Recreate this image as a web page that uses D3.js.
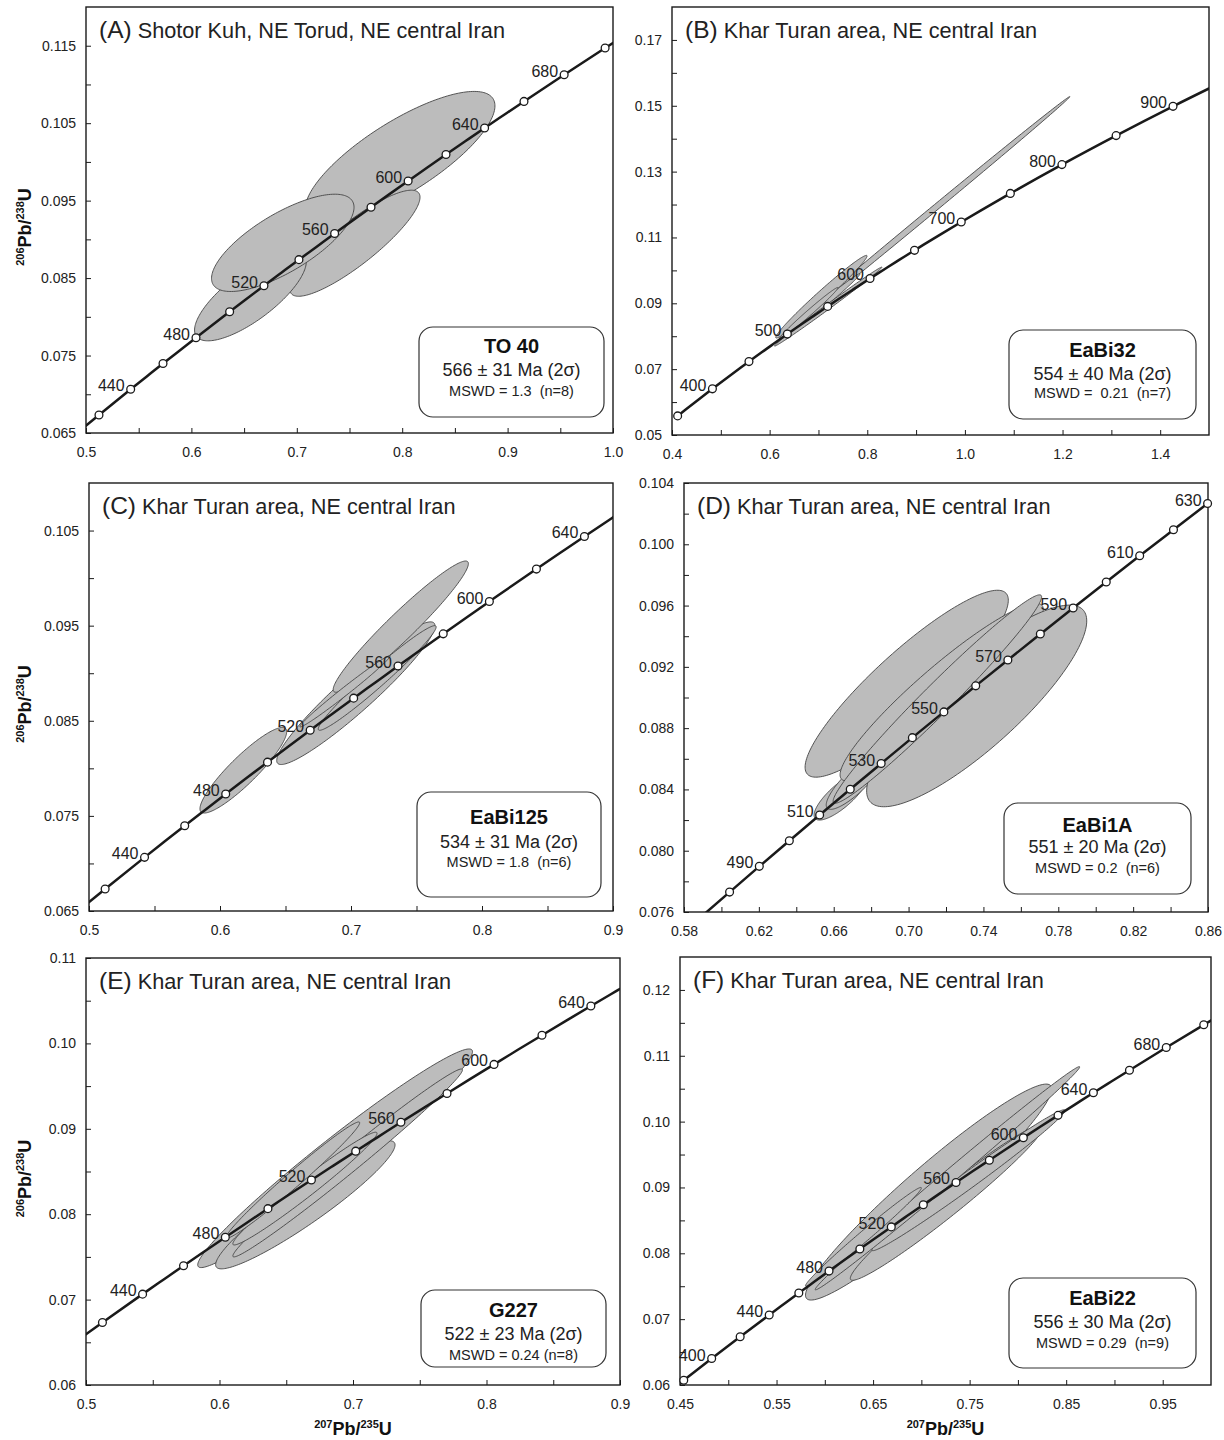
<!DOCTYPE html>
<html>
<head>
<meta charset="utf-8">
<script src="https://cdn.jsdelivr.net/npm/d3@7"></script>
<style>
  body { margin: 0; background: #fff; }
  svg { display: block; font-family: "Liberation Sans", Arial, Helvetica, sans-serif; }
  text { white-space: pre; }
</style>
</head>
<body>
<svg id="chart" width="1224" height="1440"></svg>
<script>
// concordia reference points: age (Ma), 207Pb/235U, 206Pb/238U
const CONC_AGE = [350, 360, 380, 400, 420, 440, 450, 460, 470, 480, 490, 500, 510, 520, 530, 540, 550, 560, 570, 580, 590, 600, 610, 620, 630, 640, 650, 660, 680, 700, 720, 750, 800, 850, 900, 950];
const CONC_X = [0.41156, 0.42553, 0.45389, 0.48281, 0.51231, 0.54239, 0.55766, 0.57307, 0.58864, 0.60436, 0.62024, 0.63628, 0.65248, 0.66883, 0.68535, 0.70203, 0.71887, 0.73588, 0.75306, 0.77041, 0.78794, 0.80563, 0.82350, 0.84155, 0.85978, 0.87818, 0.89677, 0.91554, 0.95365, 0.99251, 1.03215, 1.09308, 1.19873, 1.30971, 1.42629, 1.54876];
const CONC_Y = [0.05580, 0.05743, 0.06072, 0.06402, 0.06732, 0.07064, 0.07230, 0.07397, 0.07563, 0.07730, 0.07898, 0.08065, 0.08233, 0.08401, 0.08569, 0.08738, 0.08906, 0.09076, 0.09245, 0.09414, 0.09584, 0.09754, 0.09925, 0.10095, 0.10266, 0.10438, 0.10609, 0.10781, 0.11125, 0.11470, 0.11817, 0.12338, 0.13213, 0.14094, 0.14983, 0.15878];

const PANEL_IDS = ["A", "B", "C", "D", "E", "F"];
const PANEL_TITLES = [
    "Shotor Kuh, NE Torud, NE central Iran",
    "Khar Turan area, NE central Iran",
    "Khar Turan area, NE central Iran",
    "Khar Turan area, NE central Iran",
    "Khar Turan area, NE central Iran",
    "Khar Turan area, NE central Iran"
];
const SAMPLE_NAMES = ["TO 40", "EaBi32", "EaBi125", "EaBi1A", "G227", "EaBi22"];
const AGE_TEXT = ["566 \u00b1 31 Ma (2\u03c3)", "554 \u00b1 40 Ma (2\u03c3)", "534 \u00b1 31 Ma (2\u03c3)", "551 \u00b1 20 Ma (2\u03c3)", "522 \u00b1 23 Ma (2\u03c3)", "556 \u00b1 30 Ma (2\u03c3)"];
const MSWD_TEXT = ["MSWD = 1.3  (n=8)", "MSWD =  0.21  (n=7)", "MSWD = 1.8  (n=6)", "MSWD = 0.2  (n=6)", "MSWD = 0.24 (n=8)", "MSWD = 0.29  (n=9)"];

const X_DOMAINS = [[0.5, 1.0], [0.4, 1.5], [0.5, 0.9], [0.58, 0.86], [0.5, 0.9], [0.45, 1.0]];
const Y_DOMAINS = [[0.065, 0.12], [0.05, 0.18], [0.065, 0.11], [0.076, 0.104], [0.06, 0.11], [0.06, 0.125]];
const X_TICKS = [
    [0.5, 0.6, 0.7, 0.8, 0.9, 1.0],
    [0.4, 0.6, 0.8, 1.0, 1.2, 1.4],
    [0.5, 0.6, 0.7, 0.8, 0.9],
    [0.58, 0.62, 0.66, 0.70, 0.74, 0.78, 0.82, 0.86],
    [0.5, 0.6, 0.7, 0.8, 0.9],
    [0.45, 0.55, 0.65, 0.75, 0.85, 0.95]
];
const X_MINOR = [
    [0.55, 0.65, 0.75, 0.85, 0.95],
    [0.5, 0.7, 0.9, 1.1, 1.3],
    [0.55, 0.65, 0.75, 0.85],
    [0.60, 0.64, 0.68, 0.72, 0.76, 0.80, 0.84],
    [0.55, 0.65, 0.75, 0.85],
    [0.5, 0.6, 0.7, 0.8, 0.9]
];
const Y_TICKS = [
    [0.065, 0.075, 0.085, 0.095, 0.105, 0.115],
    [0.05, 0.07, 0.09, 0.11, 0.13, 0.15, 0.17],
    [0.065, 0.075, 0.085, 0.095, 0.105],
    [0.076, 0.080, 0.084, 0.088, 0.092, 0.096, 0.100, 0.104],
    [0.06, 0.07, 0.08, 0.09, 0.10, 0.11],
    [0.06, 0.07, 0.08, 0.09, 0.10, 0.11, 0.12]
];
const Y_MINOR = [
    [0.07, 0.08, 0.09, 0.10, 0.11],
    [0.06, 0.08, 0.10, 0.12, 0.14, 0.16],
    [0.07, 0.08, 0.09, 0.10],
    [0.078, 0.082, 0.086, 0.090, 0.094, 0.098, 0.102],
    [0.065, 0.075, 0.085, 0.095, 0.105],
    [0.065, 0.075, 0.085, 0.095, 0.105, 0.115]
];
const X_DECIMALS = [1, 1, 1, 2, 1, 2];
const Y_DECIMALS = [3, 2, 3, 3, 2, 2];

// concordia age span drawn, ages marked with a circle, ages labelled
const LINE_AGES = [[400, 720], [350, 950], [400, 720], [460, 640], [400, 720], [360, 720]];
const CIRCLE_AGES = [
    [420, 440, 460, 480, 500, 520, 540, 560, 580, 600, 620, 640, 660, 680, 700],
    [350, 400, 450, 500, 550, 600, 650, 700, 750, 800, 850, 900],
    [420, 440, 460, 480, 500, 520, 540, 560, 580, 600, 620, 640],
    [480, 490, 500, 510, 520, 530, 540, 550, 560, 570, 580, 590, 600, 610, 620, 630],
    [420, 440, 460, 480, 500, 520, 540, 560, 580, 600, 620, 640],
    [380, 400, 420, 440, 460, 480, 500, 520, 540, 560, 580, 600, 620, 640, 660, 680, 700]
];
const LABEL_AGES = [
    [440, 480, 520, 560, 600, 640, 680],
    [400, 500, 600, 700, 800, 900],
    [440, 480, 520, 560, 600, 640],
    [490, 510, 530, 550, 570, 590, 610, 630],
    [440, 480, 520, 560, 600, 640],
    [400, 440, 480, 520, 560, 600, 640, 680]
];

// error ellipses: [x, y, 2s x, 2s y, rho]
const ELLIPSES_A = [
    [0.798, 0.1006, 0.090, 0.0085, 0.78],
    [0.7552, 0.0895, 0.0617, 0.00685, 0.867],
    [0.656, 0.0827, 0.053, 0.0058, 0.76],
    [0.6867, 0.08955, 0.0676, 0.00628, 0.73]
];
const ELLIPSES_B = [
    [0.917, 0.1163, 0.298, 0.0365, 0.9995],
    [0.706, 0.0920, 0.0935, 0.01255, 0.985],
    [0.700, 0.0885, 0.085, 0.0105, 0.993],
    [0.680, 0.0870, 0.060, 0.0078, 0.99],
    [0.720, 0.0890, 0.110, 0.0120, 0.997]
];
const ELLIPSES_C = [
    [0.6178, 0.0798, 0.0331, 0.0045, 0.90],
    [0.7037, 0.0879, 0.0604, 0.0075, 0.944],
    [0.738, 0.0949, 0.0516, 0.0069, 0.959],
    [0.720, 0.0895, 0.045, 0.0055, 0.975],
    [0.6954, 0.0881, 0.0344, 0.00374, 0.99]
];
const ELLIPSES_D = [
    [0.664, 0.0836, 0.0145, 0.0016, 0.80],
    [0.672, 0.0846, 0.016, 0.0019, 0.85],
    [0.699, 0.0909, 0.0543, 0.0061, 0.893],
    [0.7177, 0.09035, 0.0543, 0.0058, 0.93],
    [0.7364, 0.08945, 0.0588, 0.00658, 0.843],
    [0.7154, 0.0899, 0.0557, 0.0068, 0.98]
];
const ELLIPSES_E = [
    [0.6866, 0.08655, 0.1029, 0.0128, 0.975],
    [0.6643, 0.0811, 0.0672, 0.0075, 0.935],
    [0.696, 0.0860, 0.086, 0.0110, 0.99],
    [0.664, 0.0830, 0.054, 0.0066, 0.98],
    [0.655, 0.0840, 0.050, 0.0068, 0.985]
];
const ELLIPSES_F = [
    [0.7075, 0.0893, 0.1275, 0.0164, 0.955],
    [0.7264, 0.0877, 0.100, 0.0118, 0.975],
    [0.7488, 0.0911, 0.100, 0.0107, 0.99],
    [0.727, 0.0914, 0.137, 0.01695, 0.997],
    [0.640, 0.0825, 0.060, 0.0075, 0.99]
];
const ELLIPSES = [ELLIPSES_A, ELLIPSES_B, ELLIPSES_C, ELLIPSES_D, ELLIPSES_E, ELLIPSES_F];

// page layout (pixels)
const LAYOUT = {
    frames: [
        { l: 86, t: 7, r: 613, b: 433 },
        { l: 672, t: 7, r: 1209, b: 435 },
        { l: 89, t: 483, r: 613, b: 911 },
        { l: 684, t: 483, r: 1208, b: 912 },
        { l: 86, t: 958, r: 620, b: 1385 },
        { l: 680, t: 957, r: 1211, b: 1385 }
    ],
    boxes: [
        { x0: 419, y0: 327, x1: 604, y1: 417, lines: [26, 49, 69] },
        { x0: 1009, y0: 330, x1: 1196, y1: 419, lines: [27, 50, 68] },
        { x0: 417, y0: 792, x1: 601, y1: 897, lines: [32, 56, 75] },
        { x0: 1004, y0: 803, x1: 1191, y1: 894, lines: [29, 50, 70] },
        { x0: 421, y0: 1290, x1: 606, y1: 1367, lines: [27, 50, 70] },
        { x0: 1009, y0: 1278, x1: 1196, y1: 1368, lines: [27, 50, 70] }
    ],
    yTitle: [true, false, true, false, true, false],
    xTitle: [false, false, false, false, true, true]
};

const FILL = "#bcbcbc";
const INK = "#1a1a1a";
const svg = d3.select("#chart");

PANEL_IDS.forEach((id, i) => drawPanel(i));

function drawPanel(i) {
    const f = LAYOUT.frames[i];
    const x = d3.scaleLinear().domain(X_DOMAINS[i]).range([f.l, f.r]);
    const y = d3.scaleLinear().domain(Y_DOMAINS[i]).range([f.b, f.t]);
    const g = svg.append("g").attr("class", "panel-" + PANEL_IDS[i]);

    const clipId = "clip-" + PANEL_IDS[i];
    g.append("clipPath").attr("id", clipId)
        .append("rect")
        .attr("x", f.l).attr("y", f.t)
        .attr("width", f.r - f.l).attr("height", f.b - f.t);

    const plot = g.append("g").attr("clip-path", `url(#${clipId})`);

    // error ellipses
    const angles = d3.range(0, 360, 2);
    const ellLine = d3.line()
        .x(d => x(d[0]))
        .y(d => y(d[1]))
        .curve(d3.curveLinearClosed);
    ELLIPSES[i].forEach(e => {
        const [cx, cy, sx, sy, rho] = e;
        const k = Math.sqrt(1 - rho * rho);
        const pts = angles.map(a => {
            const t = a * Math.PI / 180;
            return [cx + sx * Math.cos(t), cy + sy * (rho * Math.cos(t) + k * Math.sin(t))];
        });
        plot.append("path")
            .attr("d", ellLine(pts))
            .attr("fill", FILL)
            .attr("stroke", "#444")
            .attr("stroke-width", 0.9);
    });

    // concordia
    const [a0, a1] = LINE_AGES[i];
    const conc = CONC_AGE.map((a, j) => ({ age: a, x: CONC_X[j], y: CONC_Y[j] }));
    const lineData = conc.filter(d => d.age >= a0 && d.age <= a1);

    g.selectAll("text.age")
        .data(conc.filter(d => LABEL_AGES[i].includes(d.age)))
        .join("text")
        .attr("class", "age")
        .attr("x", d => x(d.x) - 6)
        .attr("y", d => y(d.y) + 2)
        .attr("text-anchor", "end")
        .attr("font-size", 16)
        .attr("fill", "#222")
        .text(d => d.age);

    plot.append("path")
        .datum(lineData)
        .attr("d", d3.line().x(d => x(d.x)).y(d => y(d.y)).curve(d3.curveMonotoneX))
        .attr("fill", "none")
        .attr("stroke", INK)
        .attr("stroke-width", 2.5);

    // axes: minor ticks then labelled ticks, drawn inward
    const fx = d3.format("." + X_DECIMALS[i] + "f");
    const fy = d3.format("." + Y_DECIMALS[i] + "f");
    const xMinor = g.append("g").attr("transform", `translate(0,${f.b})`)
        .call(d3.axisBottom(x).tickValues(X_MINOR[i]).tickSize(-5).tickFormat(""));
    const xMajor = g.append("g").attr("transform", `translate(0,${f.b})`)
        .call(d3.axisBottom(x).tickValues(X_TICKS[i]).tickSize(-5).tickPadding(14).tickFormat(fx));
    const yMinor = g.append("g").attr("transform", `translate(${f.l},0)`)
        .call(d3.axisLeft(y).tickValues(Y_MINOR[i]).tickSize(-5).tickFormat(""));
    const yMajor = g.append("g").attr("transform", `translate(${f.l},0)`)
        .call(d3.axisLeft(y).tickValues(Y_TICKS[i]).tickSize(-5).tickPadding(10).tickFormat(fy));
    [xMinor, xMajor, yMinor, yMajor].forEach(ax => {
        ax.select(".domain").remove();
        ax.selectAll("line").attr("stroke", INK).attr("stroke-width", 1);
        ax.selectAll("text").attr("font-size", 14).attr("fill", "#222")
            .attr("font-family", "Liberation Sans, Arial, sans-serif");
    });

    g.append("rect")
        .attr("x", f.l).attr("y", f.t)
        .attr("width", f.r - f.l).attr("height", f.b - f.t)
        .attr("fill", "none")
        .attr("stroke", INK)
        .attr("stroke-width", 1.4);

    // concordia age markers sit on top, unclipped
    g.selectAll("circle")
        .data(conc.filter(d => CIRCLE_AGES[i].includes(d.age)))
        .join("circle")
        .attr("cx", d => x(d.x))
        .attr("cy", d => y(d.y))
        .attr("r", 3.9)
        .attr("fill", "#fff")
        .attr("stroke", INK)
        .attr("stroke-width", 1.3);

    // panel title
    const title = g.append("text")
        .attr("x", f.l + 13)
        .attr("y", f.t + 31)
        .attr("fill", "#222");
    title.append("tspan").attr("font-size", 24.5).text("(" + PANEL_IDS[i] + ")");
    title.append("tspan").attr("font-size", 21.7).text(" " + PANEL_TITLES[i]);

    // result box
    const b = LAYOUT.boxes[i];
    g.append("rect")
        .attr("x", b.x0).attr("y", b.y0)
        .attr("width", b.x1 - b.x0).attr("height", b.y1 - b.y0)
        .attr("rx", 14).attr("ry", 14)
        .attr("fill", "#fff")
        .attr("stroke", "#333")
        .attr("stroke-width", 1.2);
    const bx = (b.x0 + b.x1) / 2;
    g.append("text").attr("x", bx).attr("y", b.y0 + b.lines[0])
        .attr("text-anchor", "middle").attr("font-size", 20).attr("font-weight", "bold")
        .attr("fill", "#111").text(SAMPLE_NAMES[i]);
    g.append("text").attr("x", bx).attr("y", b.y0 + b.lines[1])
        .attr("text-anchor", "middle").attr("font-size", 18)
        .attr("fill", "#222").text(AGE_TEXT[i]);
    g.append("text").attr("x", bx).attr("y", b.y0 + b.lines[2])
        .attr("text-anchor", "middle").attr("font-size", 14.5)
        .attr("fill", "#222").text(MSWD_TEXT[i]);

    // axis titles
    if (LAYOUT.yTitle[i]) {
        const t = g.append("text")
            .attr("transform", `translate(31,${(f.t + f.b) / 2 + 7}) rotate(-90)`)
            .attr("text-anchor", "middle")
            .attr("font-weight", "bold")
            .attr("fill", "#111");
        isoLabel(t, "206", "Pb/", "238", "U");
    }
    if (LAYOUT.xTitle[i]) {
        const t = g.append("text")
            .attr("x", (f.l + f.r) / 2)
            .attr("y", 1435)
            .attr("text-anchor", "middle")
            .attr("font-weight", "bold")
            .attr("fill", "#111");
        isoLabel(t, "207", "Pb/", "235", "U");
    }
}

function isoLabel(t, s1, m1, s2, m2) {
    t.append("tspan").attr("font-size", 11).attr("dy", -7).text(s1);
    t.append("tspan").attr("font-size", 18).attr("dy", 7).text(m1);
    t.append("tspan").attr("font-size", 11).attr("dy", -7).text(s2);
    t.append("tspan").attr("font-size", 18).attr("dy", 7).text(m2);
}
</script>
</body>
</html>
